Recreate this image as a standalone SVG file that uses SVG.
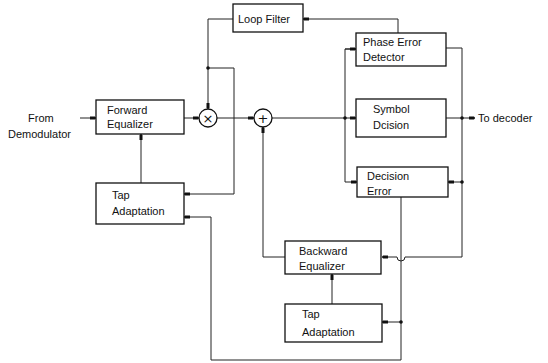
<svg xmlns="http://www.w3.org/2000/svg" width="548" height="363" viewBox="0 0 548 363">
<defs>
<style>
.box{fill:#fff;stroke:#111;stroke-width:1.3}
.t{font-family:"Liberation Sans",Arial,sans-serif;font-size:11px;fill:#111}
.c{fill:none;stroke:#222;stroke-width:1}
.dot{fill:#111}
.sym{font-family:"DejaVu Sans",sans-serif;font-size:13px;fill:#111;text-anchor:middle}
</style>
<marker id="a" markerUnits="userSpaceOnUse" markerWidth="8" markerHeight="6" refX="6" refY="3" orient="auto">
<path d="M0,1.5 L5,1.5 L6,3 L5,4.5 L0,4.5 z" fill="#111"/>
</marker>
</defs>
<rect width="548" height="363" fill="#fff"/>
<g id="connectors">
<path class="c" d="M80,118 H96" marker-end="url(#a)"/>
<path class="c" d="M184,118 H199" marker-end="url(#a)"/>
<path class="c" d="M217,118 H254" marker-end="url(#a)"/>
<path class="c" d="M272,118 H356" marker-end="url(#a)"/>
<path class="c" d="M356,49 H345 V182 H357" marker-end="url(#a)"/>
<path class="c" d="M345,49 H356" marker-end="url(#a)"/>
<path class="c" d="M446,118 H462"/>
<path class="c" d="M462,118 H475" marker-end="url(#a)"/>
<path class="c" d="M446,48 H462 V257 H405 A4,4 0 0 1 397,257 H382" marker-end="url(#a)"/>
<path class="c" d="M462,182 H448" marker-end="url(#a)"/>
<path class="c" d="M401,197 V360 H211 V217 H184" marker-end="url(#a)"/>
<path class="c" d="M401,322 H382" marker-end="url(#a)"/>
<path class="c" d="M285,257 H263 V127" marker-end="url(#a)"/>
<path class="c" d="M332,304 V274" marker-end="url(#a)"/>
<path class="c" d="M141,183 V134" marker-end="url(#a)"/>
<path class="c" d="M398,33 V19 H303" marker-end="url(#a)"/>
<path class="c" d="M233,19 H208 V109" marker-end="url(#a)"/>
<path class="c" d="M208,68 H234 V194 H184" marker-end="url(#a)"/>
<circle class="dot" cx="345" cy="118" r="1.8"/>
<circle class="dot" cx="462" cy="118" r="1.8"/>
<circle class="dot" cx="462" cy="182" r="1.8"/>
<circle class="dot" cx="401" cy="322" r="1.8"/>
<circle class="dot" cx="208" cy="68" r="1.8"/>
</g>
<g id="from">
<text class="t" x="28" y="122">From</text>
<text class="t" x="8" y="138">Demodulator</text>
</g>
<g id="todecoder">
<text class="t" x="478" y="122">To decoder</text>
</g>
<g id="forward-equalizer">
<rect class="box" x="96" y="100" width="88" height="34"/>
<text class="t" x="107" y="114">Forward</text>
<text class="t" x="107" y="128">Equalizer</text>
</g>
<g id="multiplier">
<circle class="box" cx="208" cy="118" r="9"/>
<text class="sym" x="208" y="122.5">×</text>
</g>
<g id="adder">
<circle class="box" cx="263" cy="118" r="9"/>
<text class="sym" x="263" y="122.5">+</text>
</g>
<g id="loop-filter">
<rect class="box" x="233" y="4" width="70" height="28"/>
<text class="t" x="238" y="23">Loop Filter</text>
</g>
<g id="phase-error-detector">
<rect class="box" x="356" y="33" width="90" height="33"/>
<text class="t" x="363" y="46">Phase Error</text>
<text class="t" x="363" y="61">Detector</text>
</g>
<g id="symbol-decision">
<rect class="box" x="356" y="99" width="90" height="38"/>
<text class="t" x="373" y="113">Symbol</text>
<text class="t" x="373" y="129">Dcision</text>
</g>
<g id="decision-error">
<rect class="box" x="357" y="167" width="91" height="30"/>
<text class="t" x="367" y="180">Decision</text>
<text class="t" x="367" y="195">Error</text>
</g>
<g id="tap-adaptation-1">
<rect class="box" x="96" y="183" width="88" height="41"/>
<text class="t" x="112" y="199">Tap</text>
<text class="t" x="112" y="215">Adaptation</text>
</g>
<g id="backward-equalizer">
<rect class="box" x="285" y="241" width="96" height="33"/>
<text class="t" x="299" y="255">Backward</text>
<text class="t" x="299" y="270">Equalizer</text>
</g>
<g id="tap-adaptation-2">
<rect class="box" x="285" y="304" width="97" height="38"/>
<text class="t" x="302" y="318">Tap</text>
<text class="t" x="302" y="336">Adaptation</text>
</g>
</svg>
